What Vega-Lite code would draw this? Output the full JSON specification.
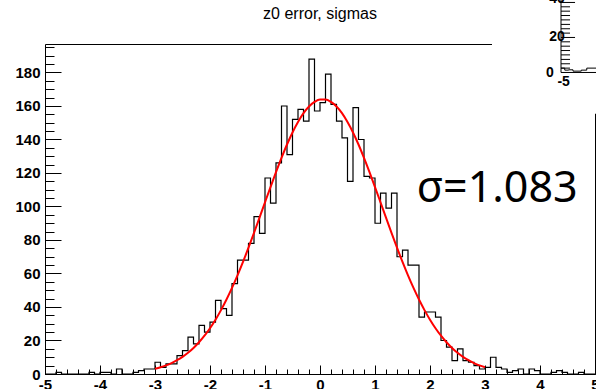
{
  "$schema": "https://vega.github.io/schema/vega-lite/v6.json",
  "width": 550,
  "height": 330,
  "autosize": {"type": "none"},
  "padding": {"left": 45, "top": 44, "right": 1, "bottom": 15},
  "background": "white",
  "title": {"text": "z0 error, sigmas", "font": "Liberation Sans", "fontSize": 16, "fontWeight": "normal", "color": "black", "anchor": "middle", "frame": "group", "offset": -30},
  "config": {
    "view": {"stroke": null},
    "axis": {"domainColor": "black", "tickColor": "black", "domainWidth": 1, "tickWidth": 1, "grid": false, "title": null, "labelColor": "black"}
  },
  "datasets": {
    "hist": [
      {"x": -5.0, "n": 0}, {"x": -4.9, "n": 0}, {"x": -4.8, "n": 1}, {"x": -4.7, "n": 0}, {"x": -4.6, "n": 0},
      {"x": -4.5, "n": 0}, {"x": -4.4, "n": 0}, {"x": -4.3, "n": 0}, {"x": -4.2, "n": 1}, {"x": -4.1, "n": 0},
      {"x": -4.0, "n": 1}, {"x": -3.9, "n": 1}, {"x": -3.8, "n": 0}, {"x": -3.7, "n": 3}, {"x": -3.6, "n": 0},
      {"x": -3.5, "n": 0}, {"x": -3.4, "n": 1}, {"x": -3.3, "n": 2}, {"x": -3.2, "n": 3}, {"x": -3.1, "n": 3},
      {"x": -3.0, "n": 7}, {"x": -2.9, "n": 4}, {"x": -2.8, "n": 6}, {"x": -2.7, "n": 6}, {"x": -2.6, "n": 11},
      {"x": -2.5, "n": 14}, {"x": -2.4, "n": 22}, {"x": -2.3, "n": 18}, {"x": -2.2, "n": 29}, {"x": -2.1, "n": 25},
      {"x": -2.0, "n": 31}, {"x": -1.9, "n": 44}, {"x": -1.8, "n": 39}, {"x": -1.7, "n": 35}, {"x": -1.6, "n": 54},
      {"x": -1.5, "n": 68}, {"x": -1.4, "n": 68}, {"x": -1.3, "n": 78}, {"x": -1.2, "n": 94}, {"x": -1.1, "n": 84},
      {"x": -1.0, "n": 117}, {"x": -0.9, "n": 102}, {"x": -0.8, "n": 126}, {"x": -0.7, "n": 160}, {"x": -0.6, "n": 131},
      {"x": -0.5, "n": 152}, {"x": -0.4, "n": 158}, {"x": -0.3, "n": 151}, {"x": -0.2, "n": 188}, {"x": -0.1, "n": 157},
      {"x": 0.0, "n": 162}, {"x": 0.1, "n": 179}, {"x": 0.2, "n": 161}, {"x": 0.3, "n": 151}, {"x": 0.4, "n": 141},
      {"x": 0.5, "n": 115}, {"x": 0.6, "n": 159}, {"x": 0.7, "n": 140}, {"x": 0.8, "n": 118}, {"x": 0.9, "n": 117},
      {"x": 1.0, "n": 90}, {"x": 1.1, "n": 108}, {"x": 1.2, "n": 99}, {"x": 1.3, "n": 108}, {"x": 1.4, "n": 70},
      {"x": 1.5, "n": 74}, {"x": 1.6, "n": 65}, {"x": 1.7, "n": 65}, {"x": 1.8, "n": 34}, {"x": 1.9, "n": 37},
      {"x": 2.0, "n": 37}, {"x": 2.1, "n": 34}, {"x": 2.2, "n": 20}, {"x": 2.3, "n": 16}, {"x": 2.4, "n": 8},
      {"x": 2.5, "n": 15}, {"x": 2.6, "n": 8}, {"x": 2.7, "n": 7}, {"x": 2.8, "n": 5}, {"x": 2.9, "n": 3},
      {"x": 3.0, "n": 4}, {"x": 3.1, "n": 10}, {"x": 3.2, "n": 4}, {"x": 3.3, "n": 3}, {"x": 3.4, "n": 1},
      {"x": 3.5, "n": 2}, {"x": 3.6, "n": 3}, {"x": 3.7, "n": 0}, {"x": 3.8, "n": 3}, {"x": 3.9, "n": 2},
      {"x": 4.0, "n": 0}, {"x": 4.1, "n": 0}, {"x": 4.2, "n": 1}, {"x": 4.3, "n": 2}, {"x": 4.4, "n": 1},
      {"x": 4.5, "n": 0}, {"x": 4.6, "n": 0}, {"x": 4.7, "n": 1}, {"x": 4.8, "n": 0}, {"x": 4.9, "n": 0},
      {"x": 5.0, "n": 0}
    ],
    "fit": [
      {"x": -3.0, "y": 3.11}, {"x": -2.9, "y": 4.01}, {"x": -2.8, "y": 5.14}, {"x": -2.7, "y": 6.53}, {"x": -2.6, "y": 8.22},
      {"x": -2.5, "y": 10.26}, {"x": -2.4, "y": 12.69}, {"x": -2.3, "y": 15.57}, {"x": -2.2, "y": 18.95}, {"x": -2.1, "y": 22.86},
      {"x": -2.0, "y": 27.34}, {"x": -1.9, "y": 32.42}, {"x": -1.8, "y": 38.13}, {"x": -1.7, "y": 44.45}, {"x": -1.6, "y": 51.38},
      {"x": -1.5, "y": 58.89}, {"x": -1.4, "y": 66.92}, {"x": -1.3, "y": 75.41}, {"x": -1.2, "y": 84.25}, {"x": -1.1, "y": 93.33},
      {"x": -1.0, "y": 102.5}, {"x": -0.9, "y": 111.6}, {"x": -0.8, "y": 120.5}, {"x": -0.7, "y": 129.0}, {"x": -0.6, "y": 137.0},
      {"x": -0.5, "y": 144.2}, {"x": -0.4, "y": 150.4}, {"x": -0.3, "y": 155.7}, {"x": -0.2, "y": 159.7}, {"x": -0.1, "y": 162.4},
      {"x": 0.0, "y": 163.8}, {"x": 0.1, "y": 163.8}, {"x": 0.2, "y": 162.4}, {"x": 0.3, "y": 159.7}, {"x": 0.4, "y": 155.7},
      {"x": 0.5, "y": 150.4}, {"x": 0.6, "y": 144.2}, {"x": 0.7, "y": 137.0}, {"x": 0.8, "y": 129.0}, {"x": 0.9, "y": 120.5},
      {"x": 1.0, "y": 111.6}, {"x": 1.1, "y": 102.5}, {"x": 1.2, "y": 93.33}, {"x": 1.3, "y": 84.25}, {"x": 1.4, "y": 75.41},
      {"x": 1.5, "y": 66.92}, {"x": 1.6, "y": 58.89}, {"x": 1.7, "y": 51.38}, {"x": 1.8, "y": 44.45}, {"x": 1.9, "y": 38.13},
      {"x": 2.0, "y": 32.42}, {"x": 2.1, "y": 27.34}, {"x": 2.2, "y": 22.86}, {"x": 2.3, "y": 18.95}, {"x": 2.4, "y": 15.57},
      {"x": 2.5, "y": 12.69}, {"x": 2.6, "y": 10.26}, {"x": 2.7, "y": 8.22}, {"x": 2.8, "y": 6.53}, {"x": 2.9, "y": 5.14},
      {"x": 3.0, "y": 4.01}
    ],
    "insetBg": [{"x": 3.127, "x2": 5.06, "y": 155.3, "y2": 226}],
    "insetRules": [
      {"x": 4.382, "x2": 4.382, "y": 180.0, "y2": 226},
      {"x": 4.382, "x2": 5.06, "y": 180.0, "y2": 180.0},
      {"x": 4.382, "x2": 4.637, "y": 200.9, "y2": 200.9},
      {"x": 4.382, "x2": 4.637, "y": 221.8, "y2": 221.8},
      {"x": 4.382, "x2": 4.546, "y": 182.6, "y2": 182.6},
      {"x": 4.382, "x2": 4.546, "y": 185.2, "y2": 185.2},
      {"x": 4.382, "x2": 4.546, "y": 187.8, "y2": 187.8},
      {"x": 4.382, "x2": 4.546, "y": 190.5, "y2": 190.5},
      {"x": 4.382, "x2": 4.546, "y": 193.1, "y2": 193.1},
      {"x": 4.382, "x2": 4.546, "y": 195.7, "y2": 195.7},
      {"x": 4.382, "x2": 4.546, "y": 198.3, "y2": 198.3},
      {"x": 4.382, "x2": 4.546, "y": 203.5, "y2": 203.5},
      {"x": 4.382, "x2": 4.546, "y": 206.1, "y2": 206.1},
      {"x": 4.382, "x2": 4.546, "y": 208.7, "y2": 208.7},
      {"x": 4.382, "x2": 4.546, "y": 211.4, "y2": 211.4},
      {"x": 4.382, "x2": 4.546, "y": 214.0, "y2": 214.0},
      {"x": 4.382, "x2": 4.546, "y": 216.6, "y2": 216.6},
      {"x": 4.382, "x2": 4.546, "y": 219.2, "y2": 219.2}
    ],
    "insetSteps": [
      {"x": 4.382, "y": 182.6}, {"x": 4.45, "y": 181.4}, {"x": 4.52, "y": 181.6}, {"x": 4.6, "y": 180.8},
      {"x": 4.75, "y": 181.4}, {"x": 4.85, "y": 182.6}, {"x": 5.06, "y": 182.6}
    ],
    "insetLabels": [
      {"x": 4.31, "y": 223.7, "t": "40", "a": "right"},
      {"x": 4.31, "y": 201.0, "t": "20", "a": "right"},
      {"x": 4.18, "y": 179.8, "t": "0", "a": "right"},
      {"x": 4.43, "y": 174.1, "t": "-5", "a": "right"}
    ],
    "note": [{"x": 1.758, "y": 102.9, "t": "σ=1.083"}]
  },
  "resolve": {"axis": {"x": "independent", "y": "independent"}},
  "layer": [
    {
      "data": {"name": "insetBg"},
      "mark": {"type": "rect", "fill": "white", "stroke": null},
      "encoding": {
        "x": {"field": "x", "type": "quantitative", "scale": {"domain": [-5, 5], "nice": false, "zero": false},
              "axis": {"orient": "top", "ticks": false, "labels": false, "domain": true, "title": null}},
        "x2": {"field": "x2"},
        "y": {"field": "y", "type": "quantitative", "scale": {"domain": [0, 197], "nice": false, "zero": false},
              "axis": {"orient": "right", "ticks": false, "labels": false, "domain": true, "title": null}},
        "y2": {"field": "y2"}
      }
    },
    {
      "data": {"name": "hist"},
      "mark": {"type": "line", "interpolate": "step-after", "color": "black", "strokeWidth": 1.2},
      "encoding": {
        "x": {"field": "x", "type": "quantitative",
              "axis": {"orient": "bottom", "values": [-5, -4, -3, -2, -1, 0, 1, 2, 3, 4, 5], "tickSize": -9, "labelPadding": 12,
                       "labelFont": "Liberation Sans", "labelFontSize": 15, "labelFontWeight": "bold", "labelFlush": false,
                       "labelOverlap": false, "labelExpr": "'' + datum.value", "title": null}},
        "y": {"field": "n", "type": "quantitative",
              "axis": {"orient": "left", "values": [0, 20, 40, 60, 80, 100, 120, 140, 160, 180], "tickSize": -16, "labelPadding": 21,
                       "labelFont": "Liberation Sans", "labelFontSize": 15, "labelFontWeight": "bold", "labelFlush": false,
                       "labelOverlap": false, "title": null}}
      }
    },
    {
      "data": {"name": "fit"},
      "mark": {"type": "line", "interpolate": "monotone", "color": "#ff0000", "strokeWidth": 2},
      "encoding": {
        "x": {"field": "x", "type": "quantitative",
              "axis": {"orient": "bottom", "values": [-5, -4.8, -4.6, -4.4, -4.2, -4, -3.8, -3.6, -3.4, -3.2, -3, -2.8, -2.6, -2.4, -2.2, -2, -1.8, -1.6, -1.4, -1.2, -1, -0.8, -0.6, -0.4, -0.2, 0, 0.2, 0.4, 0.6, 0.8, 1, 1.2, 1.4, 1.6, 1.8, 2, 2.2, 2.4, 2.6, 2.8, 3, 3.2, 3.4, 3.6, 3.8, 4, 4.2, 4.4, 4.6, 4.8, 5],
                       "tickSize": -5, "labels": false, "domain": false, "title": null}},
        "y": {"field": "y", "type": "quantitative",
              "axis": {"orient": "left", "values": [0, 5, 10, 15, 20, 25, 30, 35, 40, 45, 50, 55, 60, 65, 70, 75, 80, 85, 90, 95, 100, 105, 110, 115, 120, 125, 130, 135, 140, 145, 150, 155, 160, 165, 170, 175, 180, 185, 190, 195],
                       "tickSize": -9, "labels": false, "domain": false, "title": null}}
      }
    },
    {
      "data": {"name": "insetRules"},
      "mark": {"type": "rule", "color": "black", "strokeWidth": 1},
      "encoding": {
        "x": {"field": "x", "type": "quantitative", "axis": null},
        "x2": {"field": "x2"},
        "y": {"field": "y", "type": "quantitative", "axis": null},
        "y2": {"field": "y2"}
      }
    },
    {
      "data": {"name": "insetSteps"},
      "mark": {"type": "line", "interpolate": "step-after", "color": "black", "strokeWidth": 1},
      "encoding": {
        "x": {"field": "x", "type": "quantitative", "axis": null},
        "y": {"field": "y", "type": "quantitative", "axis": null}
      }
    },
    {
      "data": {"name": "insetLabels"},
      "mark": {"type": "text", "font": "Liberation Sans", "fontSize": 14, "fontWeight": "bold", "color": "black", "baseline": "middle"},
      "encoding": {
        "x": {"field": "x", "type": "quantitative", "axis": null},
        "y": {"field": "y", "type": "quantitative", "axis": null},
        "text": {"field": "t"},
        "align": {"field": "a", "type": "nominal", "scale": null}
      }
    },
    {
      "data": {"name": "note"},
      "mark": {"type": "text", "font": "Noto Sans", "fontSize": 43, "color": "black", "align": "left", "baseline": "alphabetic"},
      "encoding": {
        "x": {"field": "x", "type": "quantitative", "axis": null},
        "y": {"field": "y", "type": "quantitative", "axis": null},
        "text": {"field": "t"}
      }
    }
  ]
}
